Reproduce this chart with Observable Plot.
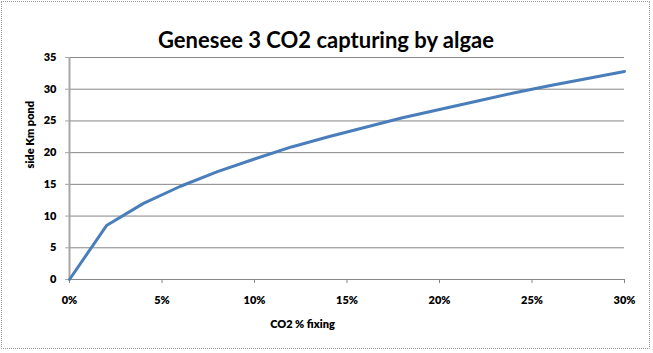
<!DOCTYPE html>
<html>
<head>
<meta charset="utf-8">
<script src="https://cdn.jsdelivr.net/npm/d3@7"></script>
<script src="https://cdn.jsdelivr.net/npm/@observablehq/plot@0.6"></script>
<style>
  html, body { margin: 0; padding: 0; background: #fff; }
  #wrap { position: relative; width: 653px; height: 353px; }
  #border { position: absolute; left: 1px; top: 1px; width: 649px; height: 348px; border: 1px dotted #9a9a9a; box-sizing: border-box; pointer-events: none; }
  svg { display: block; font-family: Lato, "Open Sans", sans-serif; }
</style>
</head>
<body>
<div id="wrap"><div id="border"></div></div>
<script>
const title = "Genesee 3 CO2 capturing by algae";
const xLabel = "CO2 % fixing";
const yLabel = "side Km pond";
const co2Pct = [0, 2, 4, 6, 8, 10, 12, 14, 16, 18, 20, 22, 24, 26, 28, 30];
const sideKm = [0, 8.5, 12.0, 14.7, 17.0, 19.0, 20.9, 22.5, 24.0, 25.5, 26.8, 28.1, 29.4, 30.6, 31.7, 32.8];
const xTicks = [0, 5, 10, 15, 20, 25, 30];
const yTicks = [0, 5, 10, 15, 20, 25, 30, 35];

const data = co2Pct.map((x, i) => ({x, y: sideKm[i]}));

const chart = Plot.plot({
  width: 653,
  height: 353,
  marginLeft: 69,
  marginRight: 29,
  marginTop: 57,
  marginBottom: 74,
  style: {fontFamily: "Lato, 'Open Sans', sans-serif", fontSize: "11px", fontWeight: "800", color: "#000", background: "transparent"},
  x: {domain: [0, 30], ticks: xTicks, tickFormat: d => d + "%", label: null},
  y: {domain: [0, 35], ticks: yTicks, label: null},
  marks: [
    Plot.gridY(yTicks, {stroke: "#868686", strokeOpacity: 1, strokeWidth: 1}),
    Plot.axisY({ticks: yTicks, tickSize: 4, tickPadding: 9, stroke: "#a6a6a6", label: null, fontWeight: "800"}),
    Plot.axisX({ticks: xTicks, tickSize: 4, tickPadding: 13, stroke: "#868686", tickFormat: d => d + "%", label: null, fontWeight: "800"}),
    Plot.ruleX([0], {stroke: "#a6a6a6", strokeWidth: 2}),
    Plot.ruleY([0], {stroke: "#868686"}),
    Plot.line(data, {x: "x", y: "y", stroke: "#4a7ebb", strokeWidth: 3, strokeLinejoin: "round", strokeLinecap: "round"}),
    Plot.text([title], {frameAnchor: "top", dx: -21, dy: -25, fontSize: 22, fontWeight: "bold", fill: "#000"}),
    Plot.text([xLabel], {frameAnchor: "bottom", dx: -44.5, dy: 48, fontSize: 11, fontWeight: "800", fill: "#000"}),
    Plot.text([yLabel], {frameAnchor: "left", dx: -39, rotate: -90, fontSize: 11, fontWeight: "800", fill: "#000"})
  ]
});
document.getElementById("wrap").prepend(chart);
</script>
</body>
</html>
